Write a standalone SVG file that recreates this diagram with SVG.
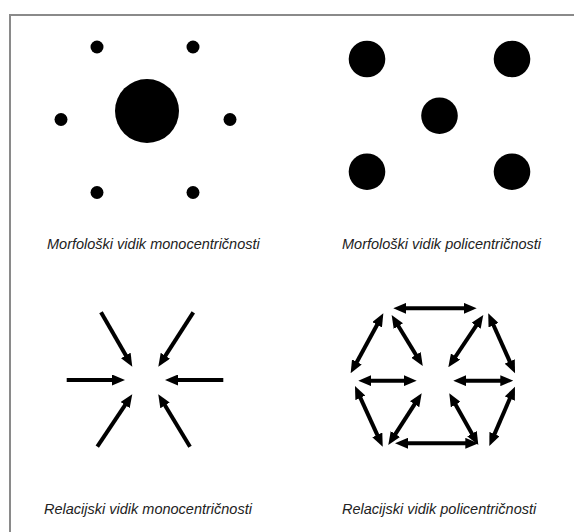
<svg xmlns="http://www.w3.org/2000/svg" width="574" height="532" viewBox="0 0 574 532">
<style>
.cap{font-family:"Liberation Sans",Arial,sans-serif;font-style:italic;font-size:14.5px;fill:#222}
.dot{fill:#000}
.arr line{stroke:#000;stroke-width:4;fill:none}
.one line{marker-end:url(#ah)}
.two line{marker-start:url(#ah);marker-end:url(#ah)}
</style>
<defs>
<marker id="ah" viewBox="0 0 13 11" refX="6" refY="5.5" markerWidth="13" markerHeight="11" markerUnits="userSpaceOnUse" orient="auto-start-reverse">
<path d="M0,0 L13,5.5 L0,11 z" fill="#000"/>
</marker>
</defs>
<rect width="574" height="532" fill="#fff"/>
<path d="M10,532 V15 H574" fill="none" stroke="#8a8a8a" stroke-width="2"/>

<g id="mono-morph">
<circle class="dot" cx="147" cy="111" r="32"/>
<circle class="dot" cx="97" cy="47" r="6.5"/>
<circle class="dot" cx="193" cy="47" r="6.5"/>
<circle class="dot" cx="61" cy="119.5" r="6.5"/>
<circle class="dot" cx="230" cy="119.5" r="6.5"/>
<circle class="dot" cx="97" cy="192.5" r="6.5"/>
<circle class="dot" cx="193" cy="192.5" r="6.5"/>
</g>
<g id="poly-morph">
<circle class="dot" cx="367" cy="59" r="18.3"/>
<circle class="dot" cx="512" cy="59" r="18.3"/>
<circle class="dot" cx="439.5" cy="115.7" r="18.3"/>
<circle class="dot" cx="367" cy="171.7" r="18.3"/>
<circle class="dot" cx="512" cy="171.7" r="18.3"/>
</g>

<g id="captions">
<text class="cap" x="47" y="249">Morfološki vidik monocentričnosti</text>
<text class="cap" x="342" y="249">Morfološki vidik policentričnosti</text>
<text class="cap" x="44" y="514">Relacijski vidik monocentričnosti</text>
<text class="cap" x="342" y="514">Relacijski vidik policentričnosti</text>
</g>

<g id="connectors">
<g id="mono-rel" class="arr one">
<line x1="66.7" y1="380" x2="118" y2="380"/>
<line x1="223.3" y1="380" x2="172" y2="380"/>
<line x1="101" y1="312.3" x2="128.8" y2="360.6"/>
<line x1="193.3" y1="312.3" x2="162.1" y2="360.8"/>
<line x1="97.3" y1="446.7" x2="128.4" y2="400.1"/>
<line x1="190" y1="446.7" x2="161.9" y2="400.3"/>
</g>
<g id="poly-rel" class="arr two">
<line x1="400.3" y1="308.3" x2="469.7" y2="308.3"/>
<line x1="402" y1="443.3" x2="471.3" y2="443.3"/>
<line x1="365.3" y1="380.7" x2="409.7" y2="380.7"/>
<line x1="460.3" y1="380.7" x2="506.3" y2="380.7"/>
<line x1="380" y1="319.5" x2="354" y2="367.2"/>
<line x1="395.3" y1="321" x2="419.1" y2="360"/>
<line x1="479.4" y1="320.8" x2="452.2" y2="361.5"/>
<line x1="491.1" y1="319.7" x2="512.2" y2="366.9"/>
<line x1="357.9" y1="392.4" x2="379.8" y2="440.3"/>
<line x1="392.1" y1="439.1" x2="417.9" y2="399.2"/>
<line x1="452.7" y1="399.4" x2="474.9" y2="438.9"/>
<line x1="512.2" y1="393.1" x2="492.1" y2="439.6"/>
</g>
</g>
</svg>
